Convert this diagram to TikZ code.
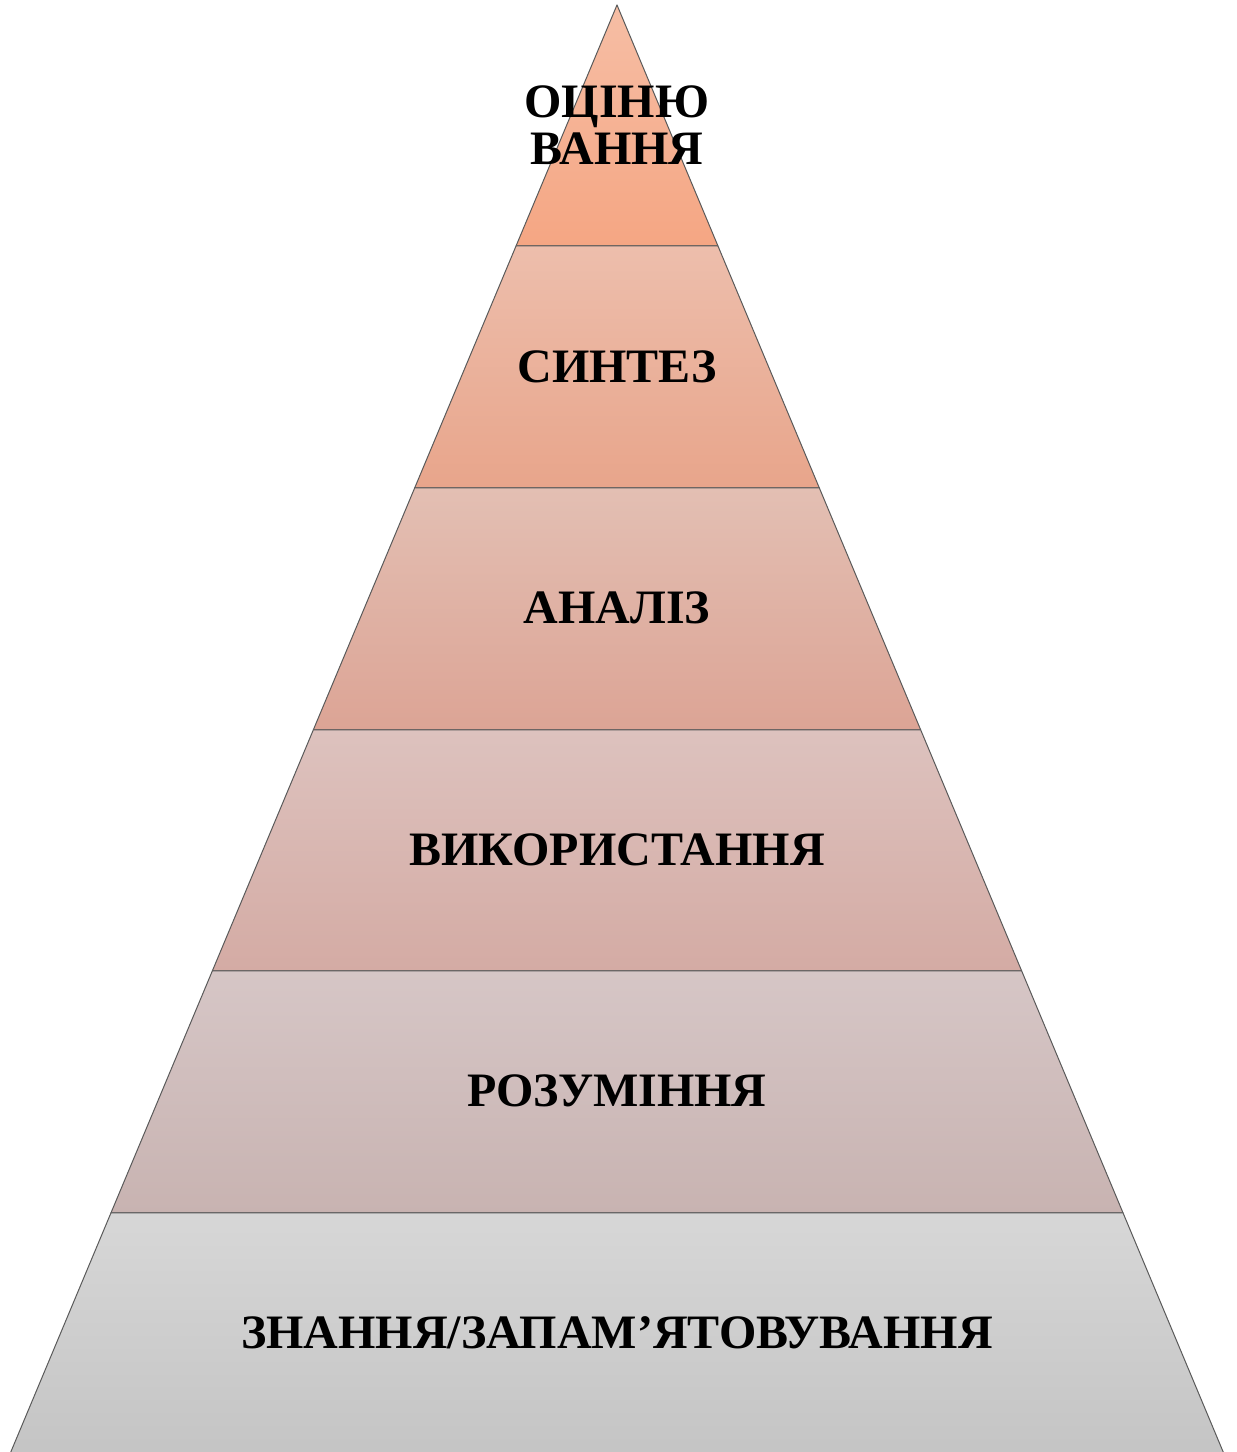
\documentclass[tikz,border=0pt]{standalone}
\usepackage{fontspec}
\setmainfont{Liberation Serif}
\usetikzlibrary{calc}
\definecolor{l1t}{RGB}{246,190,165}
\definecolor{l1b}{RGB}{245,166,131}
\definecolor{l2t}{RGB}{237,190,172}
\definecolor{l2b}{RGB}{232,165,139}
\definecolor{l3t}{RGB}{227,191,179}
\definecolor{l3b}{RGB}{220,164,149}
\definecolor{l4t}{RGB}{221,194,190}
\definecolor{l4b}{RGB}{212,171,164}
\definecolor{l5t}{RGB}{214,198,198}
\definecolor{l5b}{RGB}{200,179,177}
\definecolor{l6t}{RGB}{215,215,215}
\definecolor{l6b}{RGB}{196,196,196}
\definecolor{edge}{RGB}{90,90,90}
\tikzset{
  layer/.style={draw=edge, line width=0.5pt, line join=round},
  lbl/.style={font=\fontsize{24}{24}\selectfont\bfseries, inner sep=0pt, align=center, text=black},
}
\begin{document}
\begin{tikzpicture}[x=0.5pt,y=0.5pt]
\useasboundingbox (0,0) rectangle (1237,1452);
\coordinate (A) at (617,1447);
\coordinate (B0L) at (10.8,0);
\coordinate (B0R) at (1223.2,0);
\coordinate (BL) at ($(A)!1.004!(B0L)$);
\coordinate (BR) at ($(A)!1.004!(B0R)$);
\foreach \i/\f in {1/0.16655,2/0.33379,3/0.50104,4/0.66759,5/0.83483}{
  \coordinate (L\i) at ($(A)!\f!(B0L)$);
  \coordinate (R\i) at ($(A)!\f!(B0R)$);
}
\path[layer, top color=l1t, bottom color=l1b] (A) -- (R1) -- (L1) -- cycle;
\path[layer, top color=l2t, bottom color=l2b] (L1) -- (R1) -- (R2) -- (L2) -- cycle;
\path[layer, top color=l3t, bottom color=l3b] (L2) -- (R2) -- (R3) -- (L3) -- cycle;
\path[layer, top color=l4t, bottom color=l4b] (L3) -- (R3) -- (R4) -- (L4) -- cycle;
\path[layer, top color=l5t, bottom color=l5b] (L4) -- (R4) -- (R5) -- (L5) -- cycle;
\path[layer, top color=l6t, bottom color=l6b] (L5) -- (R5) -- (BR) -- (BL) -- cycle;
\node[lbl] (t1) at (617,1327) {ОЦІНЮ\\[-0.5pt]ВАННЯ};
\node[lbl] (t2) at (617,1085) {СИНТЕЗ};
\node[lbl] (t3) at (617,844) {АНАЛІЗ};
\node[lbl] (t4) at (617,602) {ВИКОРИСТАННЯ};
\node[lbl] (t5) at (617,361) {РОЗУМІННЯ};
\node[lbl] (t6) at (617,119) {ЗНАННЯ/ЗАПАМ’ЯТОВУВАННЯ};
\end{tikzpicture}
\end{document}
